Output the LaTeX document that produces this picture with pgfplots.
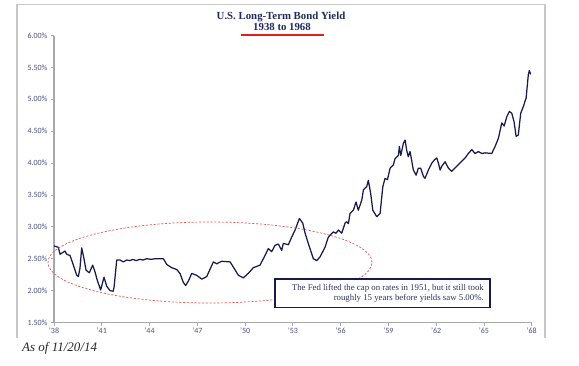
\documentclass[border=0pt]{standalone}
\usepackage{pgfplots}
\pgfplotsset{compat=1.18}
\usepackage{fontspec}
\setmainfont{Liberation Serif}
\newfontfamily\carlito{Carlito}
\definecolor{linenavy}{HTML}{161A4C}
\definecolor{titlenavy}{HTML}{1F2A5E}
\definecolor{boxtext}{HTML}{2E3566}
\definecolor{ticktext}{HTML}{4A5082}
\definecolor{framegray}{HTML}{C8C8C8}
\definecolor{axisgray}{HTML}{A8A8A8}
\definecolor{ulred}{HTML}{E0201B}
\definecolor{ellred}{HTML}{E35A5A}
\begin{document}
\begin{tikzpicture}
\path[use as bounding box] (0pt,0pt) rectangle (579pt,365pt);
\draw[framegray, line width=1.3pt] (17pt,27pt) -- (17pt,360.7pt) -- (545pt,360.7pt) -- (545pt,27pt);
\node[anchor=base, inner sep=0pt, font=\bfseries\fontsize{10.8}{13}\selectfont, text=titlenavy] at (281pt,345.8pt) {U.S. Long-Term Bond Yield};
\node[anchor=base, inner sep=0pt, font=\bfseries\fontsize{10.8}{13}\selectfont, text=titlenavy] at (282pt,334pt) {1938 to 1968};
\draw[ulred, line width=2pt] (241pt,330.3pt) -- (324pt,330.3pt);
\begin{axis}[
  at={(54pt,42.5pt)}, anchor=south west, scale only axis,
  width=477.7pt, height=287pt,
  xmin=1938, xmax=1968, ymin=1.5, ymax=6,
  axis x line*=bottom, axis y line*=left,
  axis line style={axisgray, line width=1.1pt},
  tick style={axisgray, line width=0.8pt},
  tick align=outside, major tick length=3pt,
  xtick={1938,1941,1944,1947,1950,1953,1956,1959,1962,1965,1968},
  xticklabels={’38,’41,’44,’47,’50,’53,’56,’59,’62,’65,’68},
  ytick={1.5,2,2.5,3,3.5,4,4.5,5,5.5,6},
  yticklabel={\pgfmathprintnumber[fixed,fixed zerofill,precision=2]{\tick}\%},
  /pgf/number format/assume math mode=true,
  ticklabel style={font=\carlito\fontsize{8}{9}\selectfont, text=ticktext},
  xticklabel style={yshift=1pt},
  clip=false,
]
\addplot[linenavy, line width=1.25pt, line join=round] coordinates {
(1938.00,2.70) (1938.27,2.68) (1938.38,2.57) (1938.69,2.62) (1938.80,2.57)
(1939.01,2.55) (1939.43,2.24) (1939.53,2.22) (1939.63,2.35) (1939.74,2.67)
(1939.90,2.48) (1940.01,2.32) (1940.22,2.28) (1940.43,2.40) (1940.58,2.29)
(1940.72,2.16) (1940.93,2.01) (1941.14,2.21) (1941.31,2.07) (1941.52,2.00)
(1941.72,1.99) (1941.77,2.05) (1941.94,2.48) (1942.15,2.48) (1942.35,2.45)
(1942.57,2.48) (1942.77,2.47) (1942.96,2.49) (1943.15,2.47) (1943.40,2.49)
(1943.60,2.48) (1943.82,2.50) (1944.10,2.49) (1944.34,2.50) (1944.60,2.50)
(1944.87,2.50) (1945.08,2.41) (1945.39,2.36) (1945.71,2.33) (1945.91,2.27)
(1946.12,2.13) (1946.27,2.08) (1946.44,2.15) (1946.65,2.27) (1946.96,2.24)
(1947.28,2.18) (1947.59,2.22) (1948.01,2.45) (1948.22,2.42) (1948.53,2.46)
(1949.06,2.45) (1949.26,2.37) (1949.58,2.24) (1949.89,2.20) (1950.20,2.27)
(1950.52,2.36) (1950.94,2.40) (1951.25,2.55) (1951.46,2.66) (1951.67,2.61)
(1951.88,2.71) (1952.09,2.73) (1952.30,2.63) (1952.40,2.74) (1952.72,2.72)
(1952.93,2.84) (1953.14,2.95) (1953.41,3.13) (1953.62,3.06) (1953.77,2.90)
(1953.97,2.74) (1954.29,2.50) (1954.50,2.47) (1954.71,2.53) (1955.02,2.68)
(1955.23,2.84) (1955.54,2.92) (1955.71,2.90) (1955.86,2.95) (1956.07,2.90)
(1956.28,3.06) (1956.38,3.08) (1956.49,3.05) (1956.59,3.21) (1956.80,3.26)
(1956.97,3.39) (1957.11,3.26) (1957.33,3.42) (1957.43,3.58) (1957.64,3.63)
(1957.74,3.73) (1957.89,3.52) (1958.02,3.26) (1958.27,3.16) (1958.48,3.21)
(1958.65,3.63) (1958.79,3.76) (1958.94,3.74) (1959.11,3.92) (1959.31,3.97)
(1959.42,4.07) (1959.63,4.12) (1959.69,4.26) (1959.78,4.12) (1959.94,4.31)
(1960.05,4.36) (1960.15,4.20) (1960.25,4.10) (1960.36,4.18) (1960.57,3.89)
(1960.74,3.81) (1960.88,3.92) (1961.03,3.92) (1961.20,3.79) (1961.30,3.76)
(1961.51,3.89) (1961.73,4.00) (1961.89,4.05) (1962.04,4.08) (1962.14,4.00)
(1962.25,3.89) (1962.35,3.95) (1962.56,4.02) (1962.77,3.92) (1962.98,3.87)
(1963.30,3.95) (1963.50,4.00) (1963.82,4.08) (1964.02,4.15) (1964.24,4.21)
(1964.44,4.15) (1964.65,4.18) (1964.87,4.15) (1965.07,4.16) (1965.49,4.15)
(1965.70,4.26) (1965.91,4.39) (1966.12,4.63) (1966.27,4.58) (1966.44,4.73)
(1966.60,4.81) (1966.75,4.78) (1966.89,4.65) (1967.02,4.42) (1967.16,4.44)
(1967.31,4.78) (1967.48,4.89) (1967.65,5.02) (1967.79,5.39) (1967.85,5.45)
(1967.94,5.39)
};
\end{axis}
\draw[ellred, line width=0.7pt, dash pattern=on 2.2pt off 1.6pt] (210pt,102.5pt) ellipse [x radius=162pt, y radius=40.5pt];
\draw[linenavy, line width=1.5pt, fill=white] (275pt,57.7pt) rectangle (490pt,86pt);
\node[anchor=east, align=right, font=\fontsize{8.8}{9.6}\selectfont, text=boxtext, inner sep=0pt] at (484pt,71.8pt) {The Fed lifted the cap on rates in 1951, but it still took\\roughly 15 years before yields saw 5.00\%.};
\node[anchor=base west, font=\itshape\fontsize{13}{15}\selectfont, text=black!85, inner sep=0pt] at (22pt,13.3pt) {As of 11/20/14};
\end{tikzpicture}
\end{document}
